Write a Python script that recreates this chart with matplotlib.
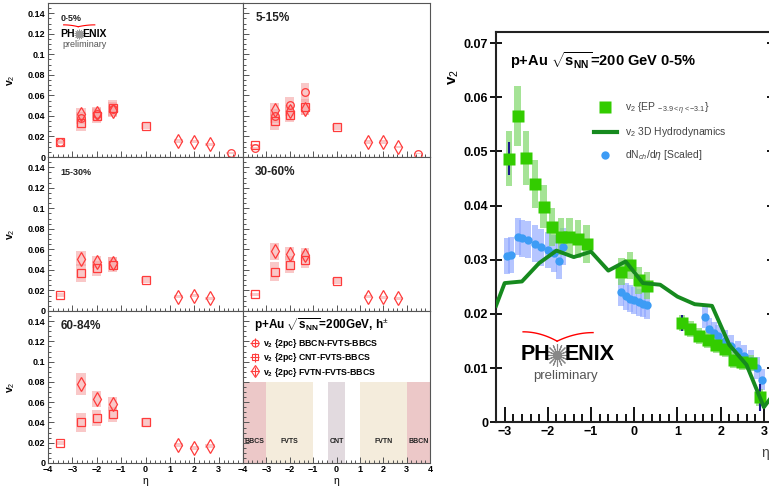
import numpy as np
import matplotlib
matplotlib.use('Agg')
import matplotlib.pyplot as plt
from matplotlib.ticker import MultipleLocator, FixedLocator
from matplotlib.lines import Line2D

plt.rcParams['font.family'] = ['Liberation Sans', 'DejaVu Sans']
plt.rcParams['mathtext.fontset'] = 'custom'
plt.rcParams['mathtext.rm'] = 'Liberation Sans'
plt.rcParams['mathtext.bf'] = 'Liberation Sans:bold'
plt.rcParams['mathtext.it'] = 'Liberation Sans:italic'

# ---------------- left: v2{2pc} vs eta in centrality bins ----------------
centralities = ['0-5%', '5-15%', '15-30%', '30-60%', '60-84%']
label_sizes = [6.5, 8.5, 6.5, 8.5, 8.5]

# open circles: BBCN-FVTS-BBCS
eta_circ = [-3.5, -2.65, -2.0, -1.35, 3.5]
v2_circ = [[0.0146, 0.038, 0.042, 0.047, 0.0039],
           [0.009, 0.040, 0.051, 0.063, 0.0033],
           None, None, None]
sys_circ = [0.10, 0.16, 0.15, 0.15, 0.2]

# open squares: CNT-FVTS-BBCS
eta_sq = [-3.5, -2.65, -2.0, -1.35, 0.0]
v2_sq = [[0.015, 0.033, 0.040, 0.048, 0.030],
         [0.0114, 0.035, 0.041, 0.049, 0.029],
         [0.0156, 0.037, 0.0416, 0.045, 0.030],
         [0.0163, 0.0384, 0.045, 0.050, 0.029],
         [0.020, 0.040, 0.044, 0.048, 0.040]]
sys_sq = [0.10, 0.24, 0.18, 0.16, 0.10]

# open diamonds: FVTN-FVTS-BBCS
eta_dia = [-2.65, -2.0, -1.35, 1.35, 2.0, 2.65]
v2_dia = [[0.0416, 0.043, 0.0445, 0.0156, 0.015, 0.0124],
          [0.046, 0.045, 0.047, 0.0146, 0.0146, 0.0098],
          [0.051, 0.048, 0.047, 0.014, 0.015, 0.0124],
          [0.058, 0.056, 0.055, 0.014, 0.0133, 0.0124],
          [0.078, 0.063, 0.058, 0.0175, 0.0146, 0.0169]]
sys_dia = [0.14, 0.12, 0.12, 0.12, 0.12, 0.12]

# detector acceptance bands (last panel)
det_names = ['BBCS', 'FVTS', 'CNT', 'FVTN', 'BBCN']
det_lo = [-4.0, -3.0, -0.35, 1.0, 3.0]
det_hi = [-3.0, -1.0, 0.35, 3.0, 4.0]
det_colors = ['#ecc8c8', '#f4ecdc', '#e2dadf', '#f4ecdc', '#ecc8c8']

# ---------------- right: p+Au 0-5% ----------------
ep_eta = [-2.9, -2.7, -2.5, -2.3, -2.1, -1.9, -1.7, -1.5, -1.3, -1.1,
          -0.3, -0.1, 0.1, 0.3,
          1.1, 1.3, 1.5, 1.7, 1.9, 2.1, 2.3, 2.5, 2.7, 2.9]
ep_v2 = [0.0487, 0.0565, 0.0488, 0.0440, 0.0398, 0.0361, 0.0343, 0.0342, 0.0338, 0.0330,
         0.0278, 0.0290, 0.0262, 0.0252,
         0.0183, 0.0172, 0.0160, 0.0152, 0.0143, 0.0135, 0.0115, 0.0112, 0.0109, 0.0046]
ep_sys = [0.0050, 0.0055, 0.0050, 0.0045, 0.0040, 0.0035, 0.0035, 0.0035, 0.0035, 0.0035,
          0.0025, 0.0025, 0.0025, 0.0025,
          0.0015, 0.0015, 0.0015, 0.0015, 0.0015, 0.0015, 0.0015, 0.0015, 0.0015, 0.0015]
ep_stat = [0.0030, 0.0008, 0.0008, 0.0006, 0.0006, 0.0005, 0.0005, 0.0005, 0.0005, 0.0005,
           0.0004, 0.0004, 0.0004, 0.0004,
           0.0015, 0.0004, 0.0004, 0.0004, 0.0004, 0.0004, 0.0004, 0.0004, 0.0004, 0.0025]

dn_eta = [-2.95, -2.85, -2.7, -2.6, -2.45, -2.3, -2.15, -2.0, -1.85, -1.75, -1.65,
          -0.3, -0.2, -0.1, 0.0, 0.1, 0.2, 0.3,
          1.63, 1.73, 1.85, 1.95, 2.1, 2.25, 2.4, 2.55, 2.7, 2.85, 2.95]
dn_v2 = [0.0307, 0.0309, 0.0343, 0.0340, 0.0337, 0.0330, 0.0323, 0.0318, 0.0312, 0.0298, 0.0324,
         0.0240, 0.0233, 0.0228, 0.0225, 0.0222, 0.0219, 0.0216,
         0.0195, 0.0172, 0.0165, 0.0160, 0.0150, 0.0141, 0.0131, 0.0122, 0.0114, 0.0100, 0.0079]
dn_sys = [0.0034] * 11 + [0.0025] * 7 + [0.0020] * 11

hydro_eta = [-3.2, -3.0, -2.6, -2.2, -1.8, -1.4, -1.0, -0.6, -0.2, 0.2, 0.6,
             1.0, 1.4, 1.8, 2.2, 2.6, 3.0, 3.4]
hydro_v2 = [0.0215, 0.0257, 0.0260, 0.0294, 0.0317, 0.0305, 0.0315, 0.0280, 0.0297,
            0.0257, 0.0254, 0.0232, 0.0218, 0.0215, 0.0143, 0.0106, 0.0028, 0.0070]

red = '#ff3b3b'
pink = '#f5a4a4'

fig = plt.figure(figsize=(7.69, 4.87), dpi=100)
W, H = 769.0, 487.0


def px_axes(x0, y0, x1, y1):
    return fig.add_axes([x0 / W, 1 - y1 / H, (x1 - x0) / W, (y1 - y0) / H])


col_x = [(48, 243), (243, 430)]
row_y = [(3, 157), (157, 311), (311, 463)]


def style_small(ax, left_col, bottom_row):
    ax.set_xlim(-4, 4)
    ax.set_ylim(0, 0.15)
    ax.xaxis.set_major_locator(MultipleLocator(1))
    ax.xaxis.set_minor_locator(MultipleLocator(0.2))
    ax.yaxis.set_major_locator(FixedLocator([0, 0.02, 0.04, 0.06, 0.08, 0.1, 0.12, 0.14]))
    ax.yaxis.set_minor_locator(MultipleLocator(0.005))
    ax.tick_params(which='both', direction='in', color='#555555', width=0.7,
                   labelsize=6.5, pad=2)
    ax.tick_params(which='major', length=4)
    ax.tick_params(which='minor', length=2)
    for s in ax.spines.values():
        s.set_color('#555555')
        s.set_linewidth(0.8)
    if left_col:
        ax.set_yticklabels(['0', '0.02', '0.04', '0.06', '0.08', '0.1', '0.12', '0.14'],
                           fontweight='bold')
        ax.set_ylabel('v$_2$', fontsize=7.5, fontweight='bold')
        ax.yaxis.set_label_coords(-0.16, 0.5)
    else:
        ax.set_yticklabels([])
    if bottom_row:
        if left_col:
            ax.set_xticks([-4, -3, -2, -1, 0, 1, 2, 3])
        for lab in ax.get_xticklabels():
            lab.set_fontweight('bold')
        ax.tick_params(axis='x', pad=1.5)
        ax.set_xlabel('η', fontsize=7.5)
        ax.xaxis.set_label_coords(0.5, -0.085)
    else:
        ax.set_xticklabels([])


def draw_series(ax, eta, v2, rel, marker, ms):
    if v2 is None:
        return
    eta = np.array(eta)
    v2 = np.array(v2)
    err = v2 * np.array(rel)
    ax.bar(eta, 2 * err, bottom=v2 - err, width=0.38, color=pink, alpha=0.6,
           linewidth=0, zorder=1)
    ax.plot(eta, v2, ls='none', marker=marker, mfc='none', mec=red, ms=ms,
            mew=0.9, zorder=3)


panel_axes = []
for i, cent in enumerate(centralities):
    r, c = divmod(i, 2)
    ax = px_axes(col_x[c][0], row_y[r][0], col_x[c][1], row_y[r][1])
    style_small(ax, c == 0, r == 2)
    draw_series(ax, eta_sq, v2_sq[i], sys_sq, 's', 5.5)
    draw_series(ax, eta_circ, v2_circ[i], sys_circ, 'o', 5.5)
    draw_series(ax, eta_dia, v2_dia[i], sys_dia, 'd', 7)
    ax.text(0.065, 0.9, cent, transform=ax.transAxes, fontsize=label_sizes[i],
            fontweight='bold', va='center', color='#222222')
    panel_axes.append(ax)

# small PHENIX logo in first panel
arc = np.linspace(0, 1, 40)
ax0 = panel_axes[0]
ax0.plot(0.08 + 0.075 * arc, 0.858 - 0.012 * arc ** 2, color='red', lw=0.8,
         transform=ax0.transAxes)
ax0.plot(0.155 + 0.085 * arc, 0.846 + 0.012 * (1 - (1 - arc) ** 2), color='red', lw=0.8,
         transform=ax0.transAxes)
ax0.text(0.14, 0.80, 'PH', transform=ax0.transAxes, fontsize=7.5, fontweight='bold',
         ha='right', va='center')
ax0.plot([0.158], [0.80], marker=(14, 2, 0), ms=7, color='#999999', mew=0.6,
         transform=ax0.transAxes)
ax0.text(0.178, 0.80, 'ENIX', transform=ax0.transAxes, fontsize=7.5, fontweight='bold',
         ha='left', va='center')
ax0.text(0.185, 0.73, 'preliminary', transform=ax0.transAxes, fontsize=6.5,
         ha='center', va='center', color='#555555')

# last panel: legend + detector acceptance
ax5 = px_axes(col_x[1][0], row_y[2][0], col_x[1][1], row_y[2][1])
style_small(ax5, False, True)
for name, lo, hi, col in zip(det_names, det_lo, det_hi, det_colors):
    ax5.axvspan(lo, hi, ymin=0, ymax=0.08 / 0.15, color=col, lw=0, zorder=0)
    ax5.text((lo + hi) / 2, 0.021, name, fontsize=5, fontweight='bold',
             ha='center', va='center', color='#222222')
ax5.text(0.06, 0.905, r'p+Au $\mathbf{\sqrt{s_{NN}}}$=200GeV, h$^{\pm}$',
         transform=ax5.transAxes, fontsize=8.5, fontweight='bold', va='center')
handles = []
for mk, ms in [('o', 5), ('s', 5), ('d', 6.5)]:
    h = ax5.errorbar([np.nan], [np.nan], xerr=[0.1], yerr=[0.01], fmt=mk, mfc='none',
                     mec=red, ecolor=red, ms=ms, mew=0.8, elinewidth=0.8)
    handles.append(h)
leg = ax5.legend(handles, [r'$\mathbf{v_2}$ {2pc} BBCN-FVTS-BBCS',
                           r'$\mathbf{v_2}$ {2pc} CNT-FVTS-BBCS',
                           r'$\mathbf{v_2}$ {2pc} FVTN-FVTS-BBCS'],
                 loc='upper left', bbox_to_anchor=(0.0, 0.87), frameon=False,
                 prop={'size': 6.3, 'weight': 'bold'}, handlelength=1.3,
                 handletextpad=0.3, labelspacing=0.15, borderpad=0.2)

# ---------------- right chart ----------------
axr = px_axes(496, 32.3, 772.5, 422.3)
axr.set_xlim(-3.2, 3.2)
axr.set_ylim(0, 0.072)
axr.bar(dn_eta, 2 * np.array(dn_sys), bottom=np.array(dn_v2) - np.array(dn_sys),
        width=0.14, color='#8ea6ff', alpha=0.65, lw=0, zorder=1)
axr.bar(ep_eta, 2 * np.array(ep_sys), bottom=np.array(ep_v2) - np.array(ep_sys),
        width=0.15, color='#7fd86a', alpha=0.7, lw=0, zorder=2)
axr.plot(dn_eta, dn_v2, ls='none', marker='o', ms=6, color='#3d9cf5', mec='none', zorder=3)
axr.errorbar(ep_eta, ep_v2, yerr=ep_stat, fmt='none', ecolor='#1a1a8c', elinewidth=1.5,
             zorder=4)
axr.plot(ep_eta, ep_v2, ls='none', marker='s', ms=8.5, color='#33cc00', mec='none', zorder=5)
axr.plot(hydro_eta, hydro_v2, color='#168a1e', lw=2.8, zorder=6)

axr.xaxis.set_major_locator(MultipleLocator(1))
axr.xaxis.set_minor_locator(MultipleLocator(0.2))
axr.set_yticks([0, 0.01, 0.02, 0.03, 0.04, 0.05, 0.06, 0.07])
axr.set_yticklabels(['0', '0.01', '0.02', '0.03', '0.04', '0.05', '0.06', '0.07'])
axr.tick_params(axis='x', which='major', direction='in', length=11, width=1.3,
                labelsize=9, pad=3)
axr.tick_params(axis='x', which='minor', direction='in', length=6, width=1.3)
axr.tick_params(axis='y', which='major', direction='inout', length=9, width=1.3,
                labelsize=9, pad=1, right=True)
for lab in axr.get_xticklabels() + axr.get_yticklabels():
    lab.set_fontweight('bold')
for s in axr.spines.values():
    s.set_linewidth(1.5)
    s.set_color('#222222')
axr.set_ylabel('v$_2$', fontsize=11, fontweight='bold')
axr.yaxis.set_label_coords(-0.128, 0.885)
axr.set_xlabel('η', fontsize=10, color='#444444')
axr.xaxis.set_label_coords(0.975, -0.06)

axr.text(0.05, 0.926, r'p+Au $\mathbf{\sqrt{s_{NN}}}$=200 GeV 0-5%', transform=axr.transAxes,
         fontsize=10.5, fontweight='bold', va='center')

leg_handles = [Line2D([], [], ls='none', marker='s', ms=9, color='#33cc00', mec='none'),
               Line2D([], [], color='#168a1e', lw=3),
               Line2D([], [], ls='none', marker='o', ms=6, color='#3d9cf5', mec='none')]
axr.legend(leg_handles, [r'v$_2$ {EP $_{-3.9 < \eta < -3.1}$}', 'v$_2$ 3D Hydrodynamics',
                         r'dN$_{ch}$/d$\eta$ [Scaled]'],
           loc='upper left', bbox_to_anchor=(0.32, 0.85), frameon=False,
           prop={'size': 7.5}, labelcolor='#444444', handlelength=2.2,
           labelspacing=0.85, handletextpad=0.8)

# PHENIX logo on right chart
axr.plot(0.098 + 0.123 * arc, 0.232 - 0.024 * arc ** 2, color='red', lw=1.0,
         transform=axr.transAxes)
axr.plot(0.221 + 0.13 * arc, 0.208 + 0.022 * (1 - (1 - arc) ** 2), color='red', lw=1.0,
         transform=axr.transAxes)
axr.text(0.196, 0.173, 'PH', transform=axr.transAxes, fontsize=15.5, fontweight='bold',
         ha='right', va='center')
axr.plot([0.222], [0.173], marker=(16, 2, 0), ms=16, color='#888888', mew=0.8,
         transform=axr.transAxes)
axr.text(0.25, 0.173, 'ENIX', transform=axr.transAxes, fontsize=15.5, fontweight='bold',
         ha='left', va='center')
axr.text(0.25, 0.12, 'preliminary', transform=axr.transAxes, fontsize=9.5,
         ha='center', va='center', color='#555555')

fig.savefig('out.png', dpi=100)
